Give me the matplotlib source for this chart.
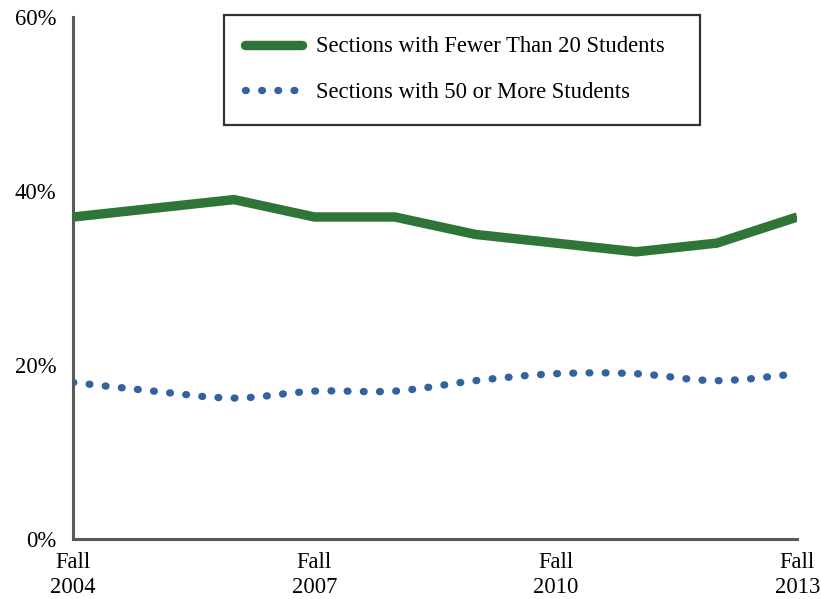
import matplotlib
matplotlib.use("Agg")
import matplotlib.pyplot as plt
import numpy as np
from matplotlib.path import Path
from matplotlib.patches import PathPatch
from matplotlib.lines import Line2D

years = [2004, 2005, 2006, 2007, 2008, 2009, 2010, 2011, 2012, 2013]
fewer_than_20 = [37, 38, 39, 37, 37, 35, 34, 33, 34, 37]
fifty_or_more = [18, 17, 16.2, 17, 17, 18.2, 19, 19, 18.2, 19]
tick_years = [2004, 2007, 2010, 2013]
tick_labels = ["Fall\n2004", "Fall\n2007", "Fall\n2010", "Fall\n2013"]

green = "#2E7537"
blue = "#31649C"
spine_gray = "#595959"

plt.rcParams["font.family"] = ["Liberation Serif", "DejaVu Serif"]

fig = plt.figure(figsize=(8.21, 5.99), dpi=100)
ax = fig.add_axes([0.089, 0.100, 0.882, 0.872])


def smooth_path(xs, ys, t=1 / 6):
    # bezier segments like a spreadsheet "smoothed line"
    xs = np.asarray(xs, float)
    ys = np.asarray(ys, float)
    n = len(xs)
    verts = [(xs[0], ys[0])]
    codes = [Path.MOVETO]
    for i in range(n - 1):
        p0 = i - 1 if i > 0 else i
        p3 = i + 2 if i + 2 < n else i + 1
        c1 = (xs[i] + (xs[i + 1] - xs[p0]) * t, ys[i] + (ys[i + 1] - ys[p0]) * t)
        c2 = (xs[i + 1] - (xs[p3] - xs[i]) * t, ys[i + 1] - (ys[p3] - ys[i]) * t)
        verts += [c1, c2, (xs[i + 1], ys[i + 1])]
        codes += [Path.CURVE4] * 3
    return Path(verts, codes)


ax.plot(years, fewer_than_20, color=green, lw=6.8, solid_capstyle="butt",
        solid_joinstyle="miter", zorder=3)

patch = PathPatch(smooth_path(years, fifty_or_more), facecolor="none",
                  edgecolor=blue, lw=5.3, linestyle=(0, (0.1, 2.1)),
                  capstyle="round", zorder=3)
ax.add_patch(patch)

ax.set_xlim(2004, 2013)
ax.set_ylim(0, 60)
ax.set_yticks([0, 20, 40, 60])
ax.set_yticklabels(["0%", "20%", "40%", "60%"])
ax.set_xticks(tick_years)
ax.set_xticklabels(tick_labels, linespacing=1.3)
ax.tick_params(length=0, labelsize=16.3, colors="black")
ax.tick_params(axis="y", pad=12)
ax.tick_params(axis="x", pad=9)

for side in ["top", "right"]:
    ax.spines[side].set_visible(False)
for side in ["left", "bottom"]:
    ax.spines[side].set_color(spine_gray)
    ax.spines[side].set_linewidth(2.2)

handles = [
    Line2D([], [], color=green, lw=6.8, solid_capstyle="round"),
    Line2D([], [], color=blue, lw=5.3, linestyle=(0, (0.1, 2.1)),
           dash_capstyle="round"),
]
labels = ["Sections with Fewer Than 20 Students", "Sections with 50 or More Students"]
leg = fig.legend(handles, labels, loc="upper left",
                 bbox_to_anchor=(0.2728, 0.793, 0.580, 0.182), mode="expand",
                 fontsize=16.3, frameon=True, fancybox=False, edgecolor="black",
                 handlelength=2.5, handletextpad=0.6, borderpad=0.95,
                 labelspacing=1.1, borderaxespad=0)
leg.get_frame().set_linewidth(1.6)

fig.savefig("out.png", dpi=100)
